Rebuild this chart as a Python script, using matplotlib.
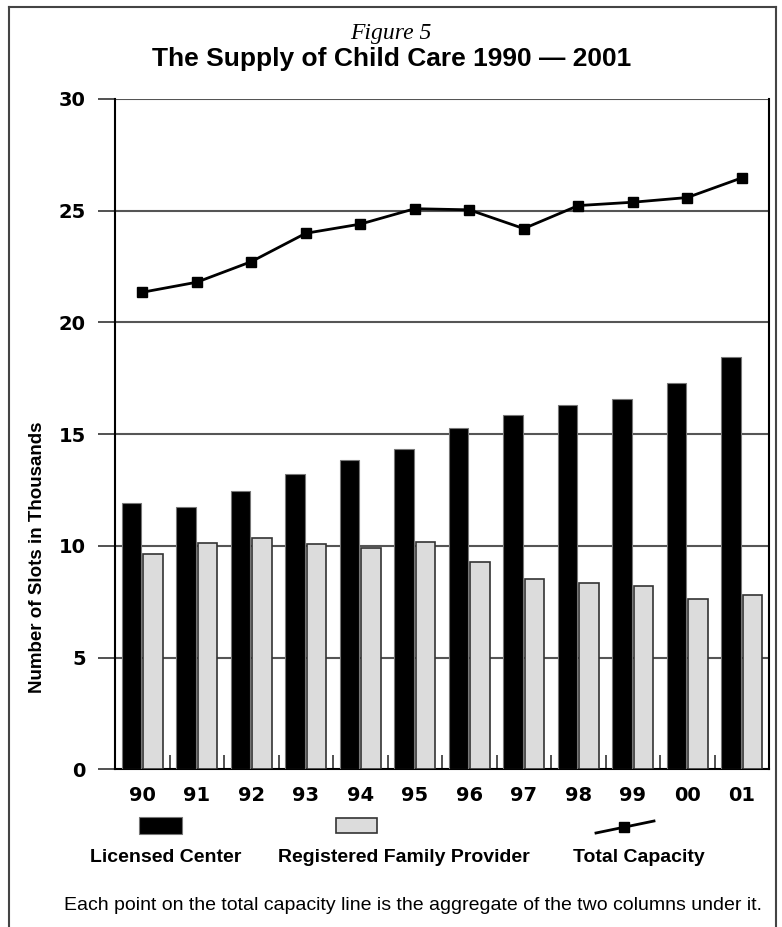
import numpy as np
import matplotlib
matplotlib.use("Agg")
import matplotlib.pyplot as plt
from matplotlib.patches import Rectangle
from matplotlib.lines import Line2D

YEARS = ["90", "91", "92", "93", "94", "95", "96", "97", "98", "99", "00", "01"]
# slots in thousands
LICENSED = [11.91, 11.75, 12.47, 13.22, 13.85, 14.32, 15.26, 15.87, 16.31, 16.59, 17.28, 18.47]
FAMILY = [9.65, 10.14, 10.34, 10.07, 9.92, 10.19, 9.27, 8.53, 8.32, 8.20, 7.61, 7.79]
TOTAL = [21.35, 21.80, 22.72, 23.99, 24.40, 25.09, 25.04, 24.20, 25.23, 25.38, 25.59, 26.47]
YTICKS = [0, 5, 10, 15, 20, 25, 30]

W, H = 782, 927
BOLD = {"family": "Liberation Sans", "weight": "bold"}
WIDE = {"family": "DejaVu Sans", "weight": "bold"}

fig = plt.figure(figsize=(W / 100, H / 100), dpi=100)

def fx(px):
    return px / W

def fy(py):
    return 1 - py / H

# outer frame
fig.add_artist(Line2D([fx(9), fx(9)], [fy(7), 0], transform=fig.transFigure, color="#444", lw=1.5))
fig.add_artist(Line2D([fx(9), fx(776)], [fy(7), fy(7)], transform=fig.transFigure, color="#444", lw=1.5))
fig.add_artist(Line2D([fx(776), fx(776)], [fy(7), 0], transform=fig.transFigure, color="#444", lw=1.5))

ax = fig.add_axes([fx(115), fy(769.3), fx(769) - fx(115), fy(99) - fy(769.3)])

x = np.arange(len(YEARS))
ax.bar(x - 0.2, LICENSED, width=0.36, color="black", edgecolor="#777", linewidth=0.8, zorder=3)
ax.bar(x + 0.2, FAMILY, width=0.36, color="#dcdcdc", edgecolor="#333", linewidth=1.2, zorder=3)
ax.plot(x, TOTAL, color="black", lw=2, marker="s", markersize=7, zorder=4)

ax.set_xlim(-0.5, len(YEARS) - 0.5)
ax.set_ylim(0, 30)
ax.set_yticks(YTICKS)
ax.set_yticklabels([str(v) for v in YTICKS], fontdict=WIDE, fontsize=14)
ax.tick_params(axis="y", direction="out", length=12, width=1.2, color="#333", pad=9)
for v in YTICKS[1:]:
    ax.axhline(v, color="#555", lw=1.5, zorder=1)

ax.set_xticks(x)
ax.set_xticklabels(YEARS, fontdict=WIDE, fontsize=14)
ax.tick_params(axis="x", which="major", length=0, pad=12)
ax.set_xticks(np.arange(0.5, len(YEARS) - 1), minor=True)
ax.tick_params(axis="x", which="minor", direction="in", length=10, width=1.2, color="#333")

for side in ["left", "right", "bottom"]:
    ax.spines[side].set_color("black")
    ax.spines[side].set_linewidth(1.5)
ax.spines["top"].set_visible(False)

ax.set_ylabel("Number of Slots in Thousands", fontdict=BOLD, fontsize=13.5)
ax.yaxis.set_label_coords(-0.106, 0.317)

# titles
fig.text(0.5, fy(33), "Figure 5", ha="center", va="center", family="Liberation Serif",
         style="italic", fontsize=17)
fig.text(fx(392), fy(59), "The Supply of Child Care 1990 \u2014 2001", ha="center", va="center",
         fontdict=BOLD, fontsize=19)

# legend row
fig.add_artist(Rectangle((fx(139), fy(834)), fx(182) - fx(139), fy(817) - fy(834),
                         transform=fig.transFigure, facecolor="black", edgecolor="#777", lw=0.8))
fig.add_artist(Rectangle((fx(336), fy(833)), fx(377) - fx(336), fy(818) - fy(833),
                         transform=fig.transFigure, facecolor="#dcdcdc", edgecolor="#333", lw=1.2))
fig.add_artist(Line2D([fx(596), fx(654)], [fy(833), fy(821)], transform=fig.transFigure,
                      color="black", lw=2))
fig.add_artist(Line2D([fx(624)], [fy(827)], transform=fig.transFigure, color="black",
                      marker="s", markersize=7))
fig.text(fx(166), fy(858), "Licensed Center", ha="center", va="center", fontdict=BOLD, fontsize=14)
fig.text(fx(404), fy(858), "Registered Family Provider", ha="center", va="center", fontdict=BOLD, fontsize=14)
fig.text(fx(639), fy(858), "Total Capacity", ha="center", va="center", fontdict=BOLD, fontsize=14)

fig.text(fx(413), fy(905), "Each point on the total capacity line is the aggregate of the two columns under it.",
         ha="center", va="center", family="Liberation Sans", fontsize=14)

fig.savefig("out.png", dpi=100)
